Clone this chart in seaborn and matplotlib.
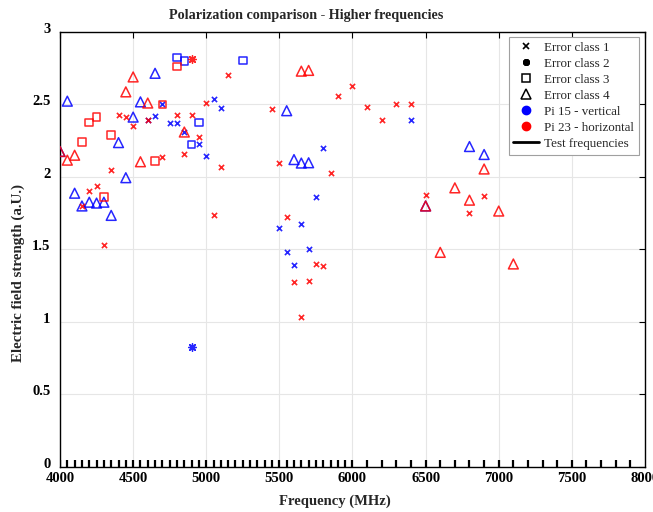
import matplotlib
matplotlib.use("Agg")
import matplotlib.pyplot as plt
import matplotlib.transforms as mtransforms
from matplotlib.lines import Line2D
import numpy as np
import pandas as pd
import seaborn as sns

# Pi 23 - horizontal (red)
h_c1_freq = [4150, 4200, 4250, 4300, 4350, 4400, 4450, 4500, 4600, 4700, 4800, 4850,
             4900, 4950, 5000, 5050, 5100, 5150, 5450, 5500, 5550, 5600, 5650, 5700,
             5750, 5800, 5850, 5900, 6000, 6100, 6200, 6300, 6400, 6500, 6800, 6900]
h_c1_val = [1.80, 1.90, 1.936, 1.53, 2.05, 2.43, 2.415, 2.354, 2.395, 2.14, 2.427, 2.157,
            2.425, 2.276, 2.507, 1.74, 2.07, 2.70, 2.468, 2.098, 1.726, 1.274, 1.032, 1.285,
            1.40, 1.383, 2.03, 2.56, 2.625, 2.484, 2.393, 2.50, 2.50, 1.877, 1.753, 1.872]
h_c2_freq = [4900]
h_c2_val = [2.815]
h_c3_freq = [4150, 4200, 4250, 4300, 4350, 4650, 4700, 4800]
h_c3_val = [2.24, 2.377, 2.413, 1.863, 2.288, 2.11, 2.50, 2.763]
h_c4_freq = [4000, 4050, 4100, 4450, 4500, 4550, 4600, 4850, 5650, 5700, 6500, 6600,
             6700, 6800, 6900, 7000, 7100]
h_c4_val = [2.176, 2.116, 2.15, 2.587, 2.69, 2.105, 2.51, 2.31, 2.73, 2.735, 1.80, 1.48,
            1.925, 1.84, 2.055, 1.765, 1.40]

# Pi 15 - vertical (blue)
v_c1_freq = [4600, 4650, 4700, 4750, 4800, 4850, 4950, 5000, 5050, 5100, 5500, 5550,
             5600, 5650, 5700, 5750, 5800, 6400]
v_c1_val = [2.395, 2.418, 2.50, 2.372, 2.372, 2.31, 2.226, 2.146, 2.539, 2.475, 1.65, 1.48,
            1.39, 1.673, 1.502, 1.865, 2.203, 2.393]
v_c2_freq = [4900]
v_c2_val = [0.826]
v_c3_freq = [4800, 4850, 4900, 4950, 5250]
v_c3_val = [2.824, 2.80, 2.224, 2.377, 2.804]
v_c4_freq = [4000, 4050, 4100, 4150, 4200, 4250, 4300, 4350, 4400, 4450, 4500, 4550,
             4650, 5550, 5600, 5650, 5700, 6500, 6800, 6900]
v_c4_val = [2.176, 2.523, 1.888, 1.80, 1.826, 1.82, 1.826, 1.735, 2.237, 1.995, 2.413, 2.518,
            2.715, 2.457, 2.12, 2.096, 2.098, 1.80, 2.21, 2.155]

test_freqs = [4000, 4050, 4100, 4150, 4200, 4250, 4300, 4350, 4400, 4450, 4500, 4550,
              4600, 4650, 4700, 4750, 4800, 4850, 4900, 4950, 5000, 5050, 5100, 5150,
              5200, 5250, 5300, 5350, 5400, 5450, 5500, 5550, 5600, 5650, 5700, 5750,
              5800, 5850, 5900, 5950, 6000, 6100, 6200, 6300, 6400, 6500, 6600, 6700,
              6800, 6900, 7000, 7100, 7200, 7300, 7400, 7500, 7600, 7700, 7800, 7900]

rows = []
for pol, sets in [("h", [(1, h_c1_freq, h_c1_val), (2, h_c2_freq, h_c2_val),
                         (3, h_c3_freq, h_c3_val), (4, h_c4_freq, h_c4_val)]),
                  ("v", [(1, v_c1_freq, v_c1_val), (2, v_c2_freq, v_c2_val),
                         (3, v_c3_freq, v_c3_val), (4, v_c4_freq, v_c4_val)])]:
    for cls, fr, vals in sets:
        for f, v in zip(fr, vals):
            rows.append({"freq": f, "value": v, "pol": pol, "cls": cls})
df = pd.DataFrame(rows)

sns.set_style("white")
plt.rcParams['font.family'] = ['Liberation Serif', 'DejaVu Serif']

fig = plt.figure(figsize=(6.53, 5.12), dpi=100)
ax = fig.add_axes([0.0919, 0.088, 0.8958, 0.8495])

colors = {"h": "#ff0000", "v": "#0000ff"}
styles = {1: dict(marker="x", s=14, linewidth=1.2),
          2: dict(marker=(8, 2, 0), s=30, linewidth=1.0),
          3: dict(marker="s", s=30, linewidth=1.1),
          4: dict(marker="^", s=50, linewidth=1.1)}

for pol in ["v", "h"]:
    for cls in [1, 2, 3, 4]:
        sub = df[(df.pol == pol) & (df.cls == cls)]
        kw = dict(styles[cls])
        if cls in (3, 4):
            kw["facecolor"] = "none"
            kw["edgecolor"] = colors[pol]
        sns.scatterplot(data=sub, x="freq", y="value", color=colors[pol], alpha=0.85,
                        ax=ax, zorder=3, legend=False, **kw)

ax.vlines(test_freqs, 0, 0.05, colors="black", linewidth=1.6, zorder=4)

ax.set_xlim(4000, 8000)
ax.set_ylim(0, 3)
ax.set_xticks([4000, 4500, 5000, 5500, 6000, 6500, 7000, 7500, 8000])
ax.set_yticks([0, 0.5, 1, 1.5, 2, 2.5, 3])
ax.set_yticklabels(["0", "0.5", "1", "1.5", "2", "2.5", "3"])
ax.grid(True, color="#e6e6e6", linewidth=0.8)
ax.set_axisbelow(True)
ax.tick_params(direction="in", length=4, width=0.8, top=True, right=True,
               labelsize=10.5, colors="black")
ax.tick_params(axis="y", pad=7)
ax.tick_params(axis="x", pad=4)
for lab in ax.get_xticklabels() + ax.get_yticklabels():
    lab.set_fontweight("bold")
# y tick labels sit a little above their ticks in the original
shift = mtransforms.ScaledTranslation(0, 4 / 100, fig.dpi_scale_trans)
for lab in ax.get_yticklabels():
    lab.set_transform(lab.get_transform() + shift)
for sp in ax.spines.values():
    sp.set_color("black")
    sp.set_linewidth(1.0)

fig.text(306 / 653, 1 - 15 / 512, "Polarization comparison - Higher frequencies",
         fontsize=10.2, fontweight="bold", ha="center", va="center")
ax.set_xlabel("Frequency (MHz)", fontsize=10.5, fontweight="bold")
ax.xaxis.set_label_coords(0.47, -0.064)
ax.set_ylabel("Electric field strength (a.U.)", fontsize=10.8, fontweight="bold")
ax.yaxis.set_label_coords(-0.06, 0.446)

handles = [
    Line2D([], [], linestyle="none", marker="x", color="black", markersize=4, markeredgewidth=1.2),
    Line2D([], [], linestyle="none", marker=(8, 2, 0), color="black", markersize=5, markeredgewidth=1.5),
    Line2D([], [], linestyle="none", marker="s", color="black", markerfacecolor="none", markersize=5.5, markeredgewidth=1.1),
    Line2D([], [], linestyle="none", marker="^", color="black", markerfacecolor="none", markersize=6.5, markeredgewidth=1.1),
    Line2D([], [], linestyle="none", marker="o", color="#0000ff", markersize=6),
    Line2D([], [], linestyle="none", marker="o", color="#ff0000", markersize=6),
    Line2D([], [], color="black", linewidth=2),
]
labels = ["Error class 1", "Error class 2", "Error class 3", "Error class 4",
          "Pi 15 - vertical", "Pi 23 - horizontal", "Test frequencies"]
leg = ax.legend(handles, labels, loc="upper right", fontsize=9.4, frameon=True,
                fancybox=False, edgecolor="#a0a0a0", framealpha=1, labelspacing=0.3,
                handlelength=2.0, handletextpad=0.4, borderpad=0.35, borderaxespad=0,
                bbox_to_anchor=(0.9897, 0.9885))
leg.get_frame().set_linewidth(0.8)

fig.savefig("out.png", dpi=100)
